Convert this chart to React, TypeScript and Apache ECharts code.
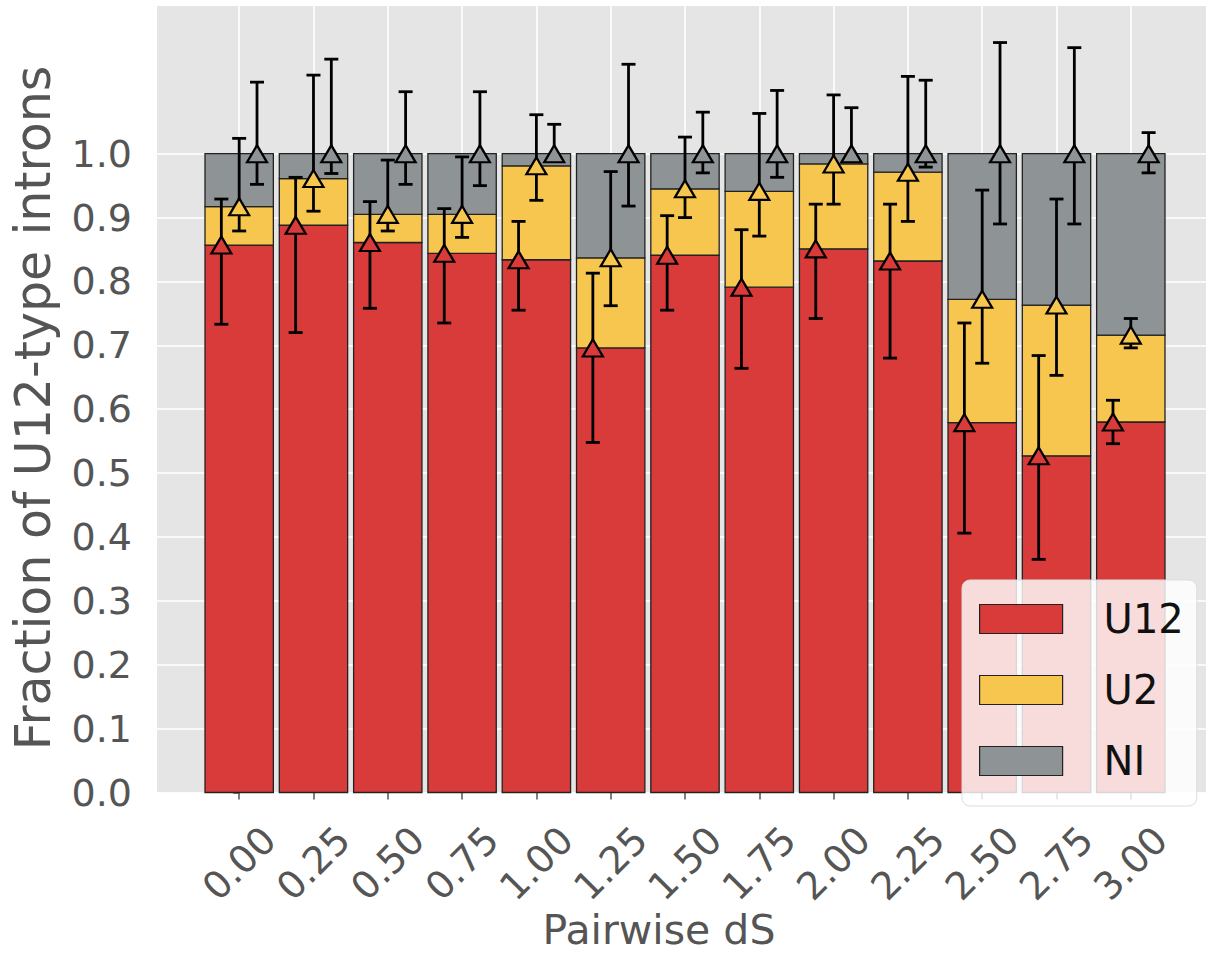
import React, { useEffect, useRef } from "react";
import * as echarts from "echarts";

// ---- data ----
const dS = [0, 0.25, 0.5, 0.75, 1.0, 1.25, 1.5, 1.75, 2.0, 2.25, 2.5, 2.75, 3.0];
const fracU12 = [0.857, 0.888, 0.861, 0.844, 0.834, 0.696, 0.841, 0.791, 0.851, 0.832, 0.579, 0.527, 0.580];
const fracU2 = [0.060, 0.073, 0.044, 0.061, 0.147, 0.141, 0.104, 0.150, 0.133, 0.139, 0.193, 0.236, 0.136];
const fracNI = [0.083, 0.039, 0.095, 0.095, 0.019, 0.163, 0.055, 0.059, 0.016, 0.029, 0.228, 0.237, 0.284];

const u12Lo = [0.733, 0.720, 0.758, 0.735, 0.755, 0.548, 0.755, 0.664, 0.742, 0.680, 0.406, 0.365, 0.546];
const u12Hi = [0.929, 0.963, 0.925, 0.914, 0.894, 0.813, 0.903, 0.881, 0.921, 0.921, 0.735, 0.684, 0.614];
const u2Lo = [0.879, 0.910, 0.879, 0.869, 0.927, 0.762, 0.900, 0.871, 0.921, 0.894, 0.672, 0.653, 0.696];
const u2Hi = [1.024, 1.123, 0.990, 0.995, 1.061, 0.972, 1.026, 1.063, 1.092, 1.121, 0.943, 0.929, 0.742];
const niLo = [0.952, 0.969, 0.952, 0.950, 0.995, 0.918, 0.970, 0.963, 0.990, 0.979, 0.890, 0.890, 0.970];
const niHi = [1.112, 1.148, 1.097, 1.097, 1.046, 1.140, 1.065, 1.099, 1.072, 1.115, 1.174, 1.166, 1.033];

const yTicks = [0, 0.1, 0.2, 0.3, 0.4, 0.5, 0.6, 0.7, 0.8, 0.9, 1.0];
const seriesNames = ["U12", "U2", "NI"];
const colors = ["#D93A3A", "#F7C64E", "#8E9396"];

const BAR_W = 0.23;
const OFFSETS = [-0.06, 0, 0.06];

export default function App() {
  const ref = useRef<HTMLDivElement>(null);
  useEffect(() => {
    if (!ref.current) return;
    const chart = echarts.init(ref.current, null, { renderer: "svg" });

    const fracs = [fracU12, fracU2, fracNI];
    const los = [u12Lo, u2Lo, niLo];
    const his = [u12Hi, u2Hi, niHi];

    const cum: number[][] = [[], [], []];
    dS.forEach((_, i) => {
      let acc = 0;
      for (let k = 0; k < 3; k++) {
        acc += fracs[k][i];
        cum[k][i] = acc;
      }
    });

    const series: any[] = [];
    for (let k = 0; k < 3; k++) {
      const data = dS.map((x, i) => [x, k === 0 ? 0 : cum[k - 1][i], k === 2 ? 1 : cum[k][i]]);
      series.push({
        name: seriesNames[k],
        type: "custom",
        z: 2,
        itemStyle: { color: colors[k], borderColor: "#222", borderWidth: 1.2 },
        encode: { x: 0, y: [1, 2] },
        data,
        renderItem: (params: any, api: any) => {
          const x = api.value(0);
          const b = api.value(1);
          const t = api.value(2);
          const p0 = api.coord([x - BAR_W / 2, t]);
          const p1 = api.coord([x + BAR_W / 2, b]);
          return {
            type: "rect",
            shape: { x: p0[0], y: p0[1], width: p1[0] - p0[0], height: p1[1] - p0[1] },
            style: { fill: colors[k], stroke: "#222", lineWidth: 1.3 },
          };
        },
      });
    }
    for (let k = 0; k < 3; k++) {
      const data = dS.map((x, i) => [x + OFFSETS[k], los[k][i], his[k][i]]);
      series.push({
        type: "custom",
        z: 3,
        encode: { x: 0, y: [1, 2] },
        data,
        renderItem: (params: any, api: any) => {
          const x = api.value(0);
          const lo = api.coord([x, api.value(1)]);
          const hi = api.coord([x, api.value(2)]);
          const cw = 7;
          const st = { stroke: "#000", lineWidth: 2.8 };
          return {
            type: "group",
            children: [
              { type: "line", shape: { x1: lo[0], y1: lo[1], x2: hi[0], y2: hi[1] }, style: st },
              { type: "line", shape: { x1: lo[0] - cw, y1: lo[1], x2: lo[0] + cw, y2: lo[1] }, style: st },
              { type: "line", shape: { x1: hi[0] - cw, y1: hi[1], x2: hi[0] + cw, y2: hi[1] }, style: st },
            ],
          };
        },
      });
    }
    for (let k = 0; k < 3; k++) {
      series.push({
        type: "scatter",
        z: 4,
        symbol: "triangle",
        symbolSize: [20, 17],
        itemStyle: { color: colors[k], borderColor: "#000", borderWidth: 2.2, opacity: 1 },
        data: dS.map((x, i) => [x + OFFSETS[k], cum[k][i]]),
      });
    }

    chart.setOption({
      animation: false,
      backgroundColor: "#ffffff",
      textStyle: { fontFamily: "DejaVu Sans" },
      grid: {
        left: 157,
        top: 6,
        right: 0,
        height: 786.5,
        show: true,
        backgroundColor: "#E5E5E5",
        borderWidth: 0,
        containLabel: false,
      },
      xAxis: {
        type: "value",
        min: -0.2765,
        max: 3.253,
        offset: 4,
        axisLine: { show: false },
        axisTick: { show: true, length: 7, customValues: dS, lineStyle: { color: "#555", width: 1.5 } },
        axisLabel: {
          customValues: dS,
          formatter: (v: number) => v.toFixed(2),
          rotate: 45,
          align: "center",
          verticalAlign: "middle",
          margin: 67,
          fontSize: 38,
          color: "#555",
          fontFamily: "DejaVu Sans",
        },
        splitLine: { show: true, lineStyle: { color: "#ffffff", width: 1.6 } },
      },
      yAxis: {
        type: "value",
        min: 0,
        max: 1.2312,
        offset: 5,
        axisLine: { show: false },
        axisTick: { show: true, length: 6, customValues: yTicks, lineStyle: { color: "#555", width: 1.5 } },
        axisLabel: {
          customValues: yTicks,
          formatter: (v: number) => v.toFixed(1),
          margin: 20,
          fontSize: 38,
          color: "#555",
          fontFamily: "DejaVu Sans",
        },
        splitLine: { show: true, lineStyle: { color: "#ffffff", width: 1.6 } },
      },
      legend: {
        data: seriesNames,
        orient: "vertical",
        left: 962,
        top: 580,
        icon: "rect",
        itemWidth: 83,
        itemHeight: 29,
        itemGap: 31,
        padding: [19, 13, 25, 17],
        backgroundColor: "rgba(255,255,255,0.82)",
        borderColor: "#dddddd",
        borderWidth: 1,
        borderRadius: 8,
        itemStyle: { borderColor: "#222", borderWidth: 1.2 },
        textStyle: { fontSize: 40, color: "#111", lineHeight: 29, padding: [0, 0, 0, 36], fontFamily: "DejaVu Sans" },
        selectedMode: false,
      },
      graphic: [
        {
          type: "text",
          x: 33,
          y: 408,
          rotation: Math.PI / 2,
          style: {
            text: "Fraction of U12-type introns",
            fontSize: 49,
            fill: "#555",
            fontFamily: "DejaVu Sans",
            align: "center",
            verticalAlign: "middle",
          },
        },
        {
          type: "text",
          x: 659,
          y: 930,
          style: {
            text: "Pairwise dS",
            fontSize: 41,
            fill: "#555",
            fontFamily: "DejaVu Sans",
            align: "center",
            verticalAlign: "middle",
          },
        },
      ],
      series,
    });
    return () => chart.dispose();
  }, []);
  return <div ref={ref} style={{ position: "absolute", left: 0, top: 0, width: 1206, height: 966 }} />;
}
